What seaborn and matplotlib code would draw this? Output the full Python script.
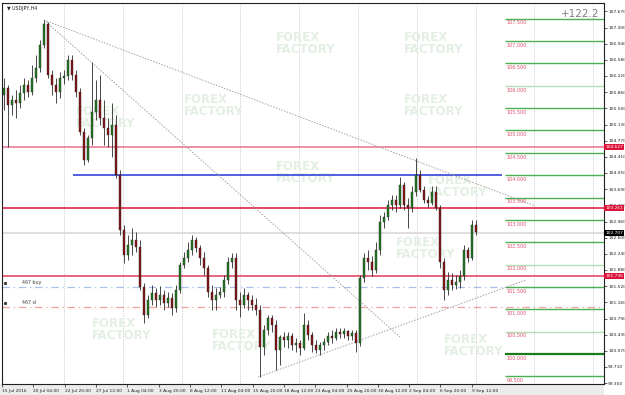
import numpy as np
import pandas as pd
import matplotlib
matplotlib.use("Agg")
import matplotlib.pyplot as plt
import matplotlib.transforms as mtransforms
import seaborn as sns

# ---------------- data (USDJPY, 8-hour candles) ----------------
opens = [105.79, 105.95, 105.57, 105.68, 105.61, 105.83, 106.02, 105.86, 106.17, 106.40,
         106.91, 107.38, 106.24, 106.02, 105.86, 106.17, 106.22, 106.58, 106.24, 105.86,
         104.97, 104.34, 104.83, 105.41, 105.68, 105.28, 105.05, 104.90, 105.12, 104.00,
         102.77, 102.21, 102.44, 102.55, 102.39, 101.50, 100.87, 101.21, 101.36, 101.21,
         101.32, 101.14, 101.25, 101.03, 101.43, 101.99, 102.15, 102.33, 102.55, 102.37,
         102.15, 101.92, 101.39, 101.21, 101.32, 101.39, 101.65, 102.06, 102.15, 101.21,
         101.09, 101.32, 101.21, 101.09, 100.98, 100.16, 100.54, 100.80, 100.65, 100.09,
         100.38, 100.31, 100.40, 100.20, 100.24, 100.13, 100.65, 100.42, 100.20, 100.09,
         100.20, 100.27, 100.40, 100.36, 100.49, 100.45, 100.51, 100.40, 100.47, 100.24,
         101.70, 102.15, 102.06, 101.88, 102.33, 102.95, 103.06, 103.33, 103.44, 103.33,
         103.78, 103.33, 103.26, 103.62, 104.00, 103.67, 103.44, 103.38, 103.62, 103.26,
         102.06, 101.43, 101.65, 101.54, 101.61, 101.74, 102.33, 102.15, 102.88]
closes = [105.95, 105.57, 105.68, 105.61, 105.83, 106.02, 105.86, 106.17, 106.40, 106.91,
          107.38, 106.24, 106.02, 105.86, 106.17, 106.22, 106.58, 106.24, 105.86, 104.97,
          104.34, 104.83, 105.41, 105.68, 105.28, 105.05, 104.90, 105.12, 104.00, 102.77,
          102.21, 102.44, 102.55, 102.39, 101.50, 100.87, 101.21, 101.36, 101.21, 101.32,
          101.14, 101.25, 101.03, 101.43, 101.99, 102.15, 102.33, 102.55, 102.37, 102.15,
          101.92, 101.39, 101.21, 101.32, 101.39, 101.65, 102.06, 102.15, 101.21, 101.09,
          101.32, 101.21, 101.09, 100.98, 100.16, 100.54, 100.80, 100.65, 100.09, 100.38,
          100.31, 100.40, 100.20, 100.24, 100.13, 100.65, 100.42, 100.20, 100.09, 100.20,
          100.27, 100.40, 100.36, 100.49, 100.45, 100.51, 100.40, 100.47, 100.24, 101.70,
          102.15, 102.06, 101.88, 102.33, 102.95, 103.06, 103.33, 103.44, 103.33, 103.78,
          103.33, 103.26, 103.62, 104.00, 103.67, 103.44, 103.38, 103.62, 103.26, 102.06,
          101.43, 101.65, 101.54, 101.61, 101.74, 102.33, 102.15, 102.88, 102.73]
highs = [106.17, 106.02, 105.79, 105.90, 106.02, 106.17, 106.13, 106.46, 106.69, 107.02,
         107.47, 107.43, 106.35, 106.17, 106.31, 106.35, 106.69, 106.69, 106.35, 105.95,
         105.05, 104.90, 106.53, 106.13, 106.24, 105.68, 105.28, 105.61, 105.35, 104.12,
         102.88, 102.66, 102.82, 102.73, 102.55, 101.59, 101.32, 101.54, 101.47, 101.52,
         101.43, 101.39, 101.36, 101.54, 102.06, 102.28, 102.50, 102.66, 102.62, 102.44,
         102.28, 101.99, 101.54, 101.47, 101.50, 101.77, 102.17, 102.26, 102.26, 101.39,
         101.47, 101.39, 101.32, 101.25, 101.09, 100.65, 100.87, 100.87, 100.76, 100.42,
         100.49, 100.49, 100.47, 100.36, 100.31, 100.92, 100.76, 100.49, 100.31, 100.27,
         100.36, 100.49, 100.54, 100.58, 100.58, 100.58, 100.54, 100.54, 100.54, 101.77,
         102.26, 102.33, 102.19, 102.50, 103.11, 103.18, 103.44, 103.56, 103.56, 103.96,
         103.85, 103.49, 103.76, 104.38, 104.12, 103.76, 103.53, 103.76, 103.76, 103.33,
         102.15, 101.83, 101.81, 101.77, 101.88, 102.44, 102.39, 103.00, 103.00]
lows = [105.46, 104.63, 105.35, 105.28, 105.50, 105.68, 105.75, 105.79, 106.08, 106.31,
        106.84, 106.17, 105.79, 105.61, 105.72, 106.04, 106.13, 106.13, 105.75, 104.90,
        104.23, 104.29, 104.67, 105.23, 105.12, 104.67, 104.63, 104.41, 103.94, 102.66,
        102.03, 102.10, 102.21, 102.28, 101.43, 100.69, 100.80, 101.09, 101.05, 101.09,
        100.98, 101.05, 100.87, 100.94, 101.36, 101.92, 102.06, 102.21, 102.28, 101.99,
        101.77, 101.27, 100.98, 100.98, 101.25, 101.27, 101.56, 101.92, 100.98, 100.83,
        101.03, 100.98, 100.98, 100.87, 99.48, 99.98, 100.42, 100.49, 99.64, 99.75,
        100.16, 100.13, 100.09, 100.04, 99.98, 100.09, 100.31, 100.04, 100.02, 99.98,
        100.09, 100.20, 100.24, 100.31, 100.36, 100.36, 100.31, 100.31, 100.04, 100.18,
        101.61, 101.88, 101.74, 101.81, 102.21, 102.82, 103.00, 103.22, 103.18, 103.26,
        103.22, 102.82, 103.18, 103.53, 103.62, 103.38, 103.29, 103.33, 103.22, 101.92,
        101.21, 101.32, 101.43, 101.45, 101.47, 101.65, 102.06, 102.10, 102.66]

date_labels = ["15 Jul 2016", "20 Jul 04:00", "22 Jul 20:00", "27 Jul 12:00", "1 Aug 04:00",
               "3 Aug 20:00", "8 Aug 12:00", "11 Aug 04:00", "15 Aug 20:00", "18 Aug 12:00",
               "23 Aug 04:00", "25 Aug 20:00", "30 Aug 12:00", "2 Sep 04:00", "6 Sep 20:00",
               "9 Sep 12:00"]
price_ticks = [107.670, 107.300, 106.940, 106.580, 106.220, 105.860, 105.500, 105.130,
               104.770, 104.410, 104.050, 103.690, 103.330, 102.960, 102.600, 102.240,
               101.880, 101.520, 101.160, 100.790, 100.430, 100.070, 99.710, 99.350]
red_levels = [104.627, 103.261, 101.736]
blue_level = 104.000
green_levels = [107.5, 107.0, 106.5, 106.0, 105.5, 105.0, 104.5, 104.0, 103.5, 103.0,
                102.5, 102.0, 101.5, 101.0, 100.5, 100.0, 99.5]
light_green = [106.0, 102.0, 100.5]
buy_level, sl_level = 101.50, 101.05
last_price = 102.707
profit_text = "+122.2"
# trendline anchors (bar index, price)
trend_lines = [((10, 107.47), (132.8, 103.31)),
               ((10, 107.47), (99.0, 100.38)),
               ((63.5, 99.48), (130.3, 101.65))]

# ---------------- figure ----------------
sns.set_theme(style="white")
plt.rcParams['font.family'] = ['DejaVu Sans']

df = pd.DataFrame({"open": opens, "high": highs, "low": lows, "close": closes})
df["idx"] = np.arange(len(df))
df["up"] = df["close"] >= df["open"]

W, H = 625, 395
fig = plt.figure(figsize=(W / 100, H / 100), dpi=100)
fig.patch.set_facecolor("white")
fig.add_artist(plt.Rectangle((0, 0), 604 / W, 11 / H, transform=fig.transFigure,
                             facecolor="#ececec", edgecolor="none", zorder=0))
ax = fig.add_axes([2 / W, 11 / H, 602 / W, 381 / H])
ax.set_facecolor("white")
ax.set_xlim(-0.5, 150)
ax.set_ylim(99.328, 107.851)

# grid (vertical dotted)
for gx in np.arange(15, 150, 14.7):
    ax.axvline(gx, color="#c8c8c8", lw=0.6, ls=(0, (1.5, 1.5)), zorder=0)

# watermarks
wm_pos = [(68, 106.95), (100, 106.95), (45, 105.55), (100, 105.55), (18, 105.3),
          (68, 104.05), (106, 103.75), (98, 102.35), (22, 100.55), (52, 100.3), (110, 100.2)]
for (wx, wy) in wm_pos:
    ax.text(wx, wy, "FOREX\nFACTORY", fontsize=8.5, fontweight="bold", color="#e4efe4",
            ha="left", va="center", linespacing=0.9, zorder=0.5)

# full-width red levels
red_cols = ["#e8708a", "#dc143c", "#e03c5a"]
for lv, rc in zip(red_levels, red_cols):
    ax.axhline(lv, color=rc, lw=1.1, zorder=1)
ax.axhline(last_price, color="#d8d8d8", lw=1.2, zorder=0.8)
ax.axhline(buy_level, color="#a8c0ea", lw=0.9, ls=(0, (6, 3, 1, 3)), zorder=1)
ax.axhline(sl_level, color="#f2a0a0", lw=0.9, ls=(0, (6, 3, 1, 3)), zorder=1)
ax.text(4.5, buy_level + 0.05, "467 buy", fontsize=3.4, color="#404040", va="bottom")
ax.text(4.5, sl_level + 0.05, "467 sl", fontsize=3.4, color="#404040", va="bottom")
ax.plot([0.3, 0.3], [buy_level + 0.09, sl_level + 0.09], ls="none", marker="s",
        markersize=1.2, color="#404040")

ax.hlines(blue_level, 17.2, 124.5, color="#3344dd", lw=1.2, zorder=1.2)

for lv in green_levels:
    col = "#b4dcb4" if lv in light_green else ("#1a7a1a" if lv == 100.0 else "#4caf50")
    lw = 1.6 if lv == 100.0 else 1.0
    ax.hlines(lv, 125.3, 150, color=col, lw=lw, zorder=1.2)
    ax.text(125.6, lv - 0.04, f"{lv:.3f}", fontsize=3.5, color="#e0506e", va="top", ha="left")

for (p0, p1) in trend_lines:
    ax.plot([p0[0], p1[0]], [p0[1], p1[1]], color="#a0a0a0", lw=0.7,
            ls=(0, (1.5, 1.5)), zorder=1.5)

# candles
ax.vlines(df["idx"], df["low"], df["high"], color="#2a2a2a", lw=0.6, zorder=2)
body_bottom = np.minimum(df["open"], df["close"])
body_h = np.maximum(np.abs(df["close"] - df["open"]), 0.02)
colors = np.where(df["up"], "#1f7a1f", "#8b1010")
ax.bar(df["idx"], body_h, bottom=body_bottom, width=0.62, color=colors,
       edgecolor="#2a2a2a", linewidth=0.3, zorder=3)

for s in ax.spines.values():
    s.set_color("#202020")
    s.set_linewidth(0.8)
ax.yaxis.tick_right()
ax.set_yticks(price_ticks)
ax.set_yticklabels([f"{v:.3f}" for v in price_ticks])
ax.tick_params(axis="y", right=True, left=False, length=2, width=0.5, labelsize=3.2,
               pad=1.0, colors="#202020")
xt = [-0.5 + 7.83 * k for k in range(len(date_labels))]
ax.set_xticks(xt)
ax.set_xticklabels(date_labels, ha="left")
ax.tick_params(axis="x", bottom=True, length=2, width=0.5, labelsize=3.2, pad=1.5,
               colors="#202020")
ax.grid(False)

trans = mtransforms.blended_transform_factory(ax.transAxes, ax.transData)
for lv, rc in zip(red_levels, red_cols):
    ax.text(1.002, lv, f"{lv:.3f}", transform=trans, fontsize=3.2, color="white",
            ha="left", va="center", clip_on=False, zorder=10,
            bbox=dict(boxstyle="square,pad=0.25", fc="#dc143c", ec="none"))
ax.text(1.002, last_price, f"{last_price:.3f}", transform=trans, fontsize=3.2, color="white",
        ha="left", va="center", clip_on=False, zorder=10,
        bbox=dict(boxstyle="square,pad=0.25", fc="black", ec="none"))

ax.text(0.008, 0.992, "\u25bc USDJPY,H4", transform=ax.transAxes, fontsize=3.4,
        color="#202020", ha="left", va="top")
ax.text(0.993, 0.985, profit_text, transform=ax.transAxes, fontsize=7.5,
        color="#808080", ha="right", va="top")

fig.savefig("out.png", dpi=100)
